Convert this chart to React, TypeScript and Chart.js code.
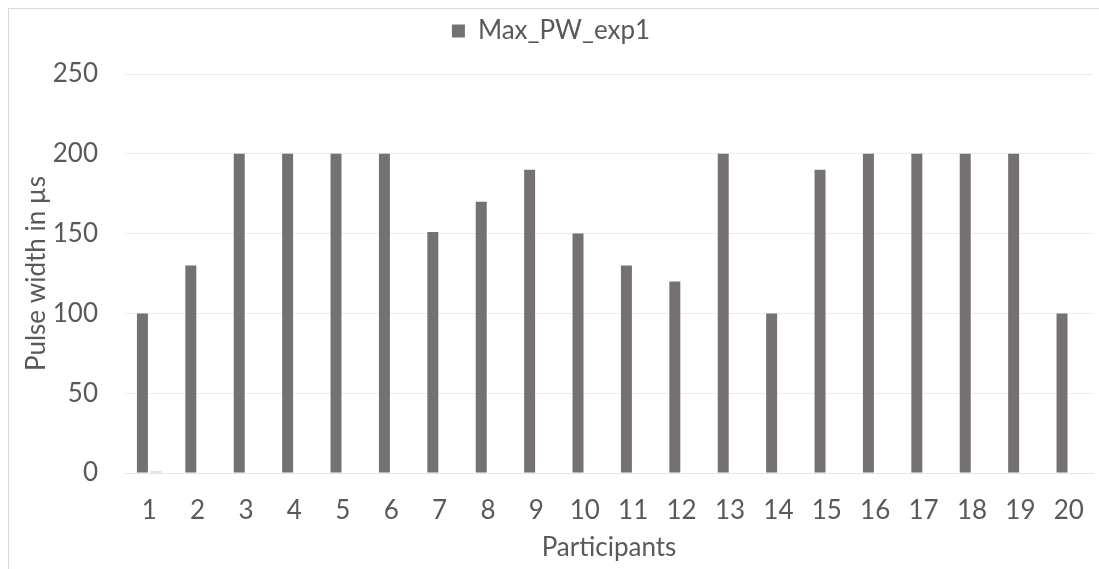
import React, { useEffect, useRef } from "react";
import { Chart, registerables } from "chart.js";

Chart.register(...registerables);

const categories = ["1","2","3","4","5","6","7","8","9","10","11","12","13","14","15","16","17","18","19","20"];
const maxPwExp1 = [100,130,200,200,200,200,151,170,190,150,130,120,200,100,190,200,200,200,200,100];
const secondSeries = [1,0,0,0,0,0,0,0,0,0,0,0,0,0,0,0,0,0,0,0];
const yTicks = [0,50,100,150,200,250];

const FONT = "Lato, 'Open Sans', sans-serif";
const TEXT = "#595959";

export default function App() {
  const ref = useRef<HTMLCanvasElement | null>(null);
  useEffect(() => {
    if (!ref.current) return;
    const fixLegend = {
      id: "fixLegend",
      beforeLayout(chart: any) {
        const lg = chart.legend;
        if (lg && !lg.__patched) {
          const orig = lg.fit.bind(lg);
          lg.fit = function () {
            orig();
            this.height = 65;
            this.minSize = { width: this.width, height: 65 };
          };
          lg.__patched = true;
        }
      },
    };
    const chart = new Chart(ref.current, {
      type: "bar",
      data: {
        labels: categories,
        datasets: [
          {
            label: "Max_PW_exp1",
            data: maxPwExp1,
            backgroundColor: "#767171",
            borderWidth: 0,
            categoryPercentage: 0.56,
            barPercentage: 0.81,
          },
          {
            label: "Series2",
            data: secondSeries,
            backgroundColor: "#d0cece",
            borderWidth: 0,
            categoryPercentage: 0.56,
            barPercentage: 0.81,
          },
        ],
      },
      options: {
        responsive: false,
        animation: false,
        maintainAspectRatio: false,
        layout: { padding: { top: 0, left: 0, right: 6, bottom: 0 } },
        plugins: {
          legend: {
            position: "top",
            labels: {
              filter: (item: any) => item.datasetIndex === 0,
              font: { family: FONT, size: 26 },
              color: TEXT,
              boxWidth: 13,
              boxHeight: 13,
              padding: 9,
            },
          },
          tooltip: { enabled: false },
        },
        scales: {
          x: {
            grid: { display: false, drawTicks: false },
            border: { display: true, color: "#e6e6e6", width: 1 },
            ticks: { font: { family: FONT, size: 26 }, color: TEXT, padding: 22, maxRotation: 0 },
            title: {
              display: true,
              text: "Participants",
              font: { family: FONT, size: 26 },
              color: TEXT,
              padding: { top: 0, bottom: 6 },
            },
            afterFit(scale: any) {
              scale.height = 96;
              scale.paddingLeft = 0;
              scale.paddingRight = 0;
            },
          },
          y: {
            min: 0,
            max: 250,
            afterBuildTicks(scale: any) {
              scale.ticks = yTicks.map((v) => ({ value: v }));
            },
            grid: { color: "#ececec", drawTicks: false, lineWidth: 1 },
            border: { display: false },
            ticks: { font: { family: FONT, size: 26 }, color: TEXT, padding: 27 },
            title: {
              display: true,
              text: "Pulse width in µs",
              font: { family: FONT, size: 26 },
              color: TEXT,
              padding: { top: 12, bottom: 0 },
            },
            afterFit(scale: any) {
              scale.width = 116;
              scale.paddingTop = 0;
              scale.paddingBottom = 0;
            },
          },
        },
      },
      plugins: [fixLegend],
    } as any);
    return () => chart.destroy();
  }, []);
  return (
    <div
      style={{
        position: "fixed",
        left: 8,
        top: 8,
        width: 1091,
        height: 561,
        borderLeft: "1px solid #d9d9d9",
        borderTop: "1px solid #d9d9d9",
        boxSizing: "border-box",
        background: "#fff",
      }}
    >
      <canvas ref={ref} width={1090} height={560} style={{ display: "block", width: 1090, height: 560 }} />
    </div>
  );
}
